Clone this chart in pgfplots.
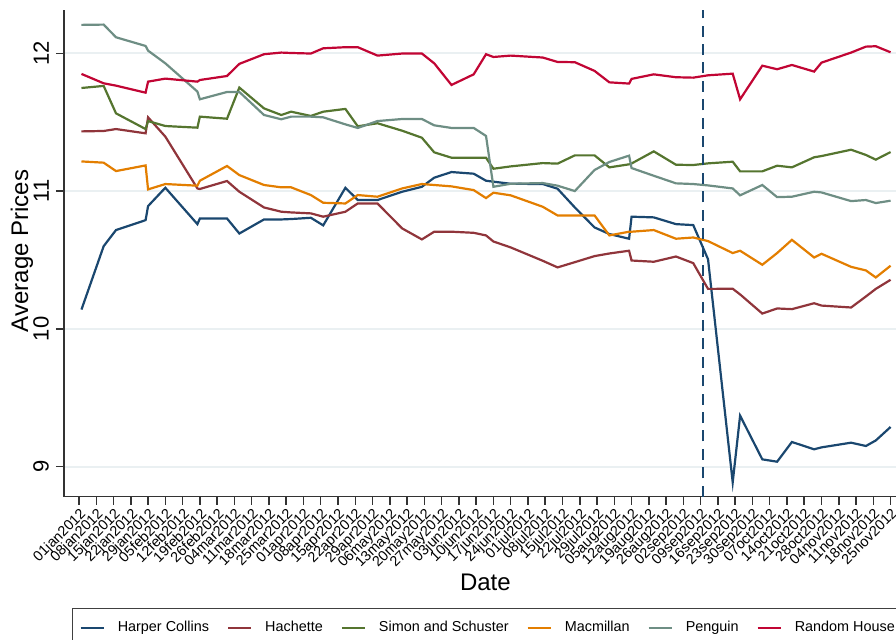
\documentclass[border=0pt]{standalone}
\usepackage{fontspec}
\setmainfont{Liberation Sans}
\usepackage{pgfplots}
\usepackage{pgfplotstable}
\pgfplotsset{compat=1.18}

\definecolor{hcnavy}{HTML}{1A476F}
\definecolor{hachmaroon}{HTML}{90353B}
\definecolor{ssgreen}{HTML}{55752F}
\definecolor{macorange}{HTML}{E37E00}
\definecolor{pengteal}{HTML}{6E8E84}
\definecolor{rhred}{HTML}{C10534}
\definecolor{gridc}{HTML}{EAF0F2}

% day = days since 01jan2012
\pgfplotstableread{
day hc hach ss mac peng rh
1 10.140 11.433 11.748 11.215 12.206 11.850
10 10.600 11.436 11.763 11.206 12.208 11.782
15 10.717 11.450 11.564 11.145 12.116 11.765
27 10.789 11.419 11.450 11.186 12.053 11.714
28 10.891 11.535 11.508 11.012 12.019 11.794
35 11.024 11.395 11.472 11.051 11.927 11.816
48 10.760 11.019 11.460 11.039 11.722 11.794
49 10.801 11.015 11.540 11.075 11.666 11.806
60 10.801 11.073 11.525 11.182 11.719 11.835
65 10.692 10.995 11.751 11.116 11.719 11.923
75 10.794 10.881 11.600 11.044 11.552 11.993
82 10.794 10.850 11.552 11.027 11.521 12.005
86 10.797 10.845 11.576 11.027 11.540 12.002
94 10.806 10.838 11.545 10.971 11.540 11.998
99 10.751 10.814 11.576 10.915 11.535 12.036
108 11.024 10.850 11.596 10.910 11.484 12.044
113 10.935 10.910 11.470 10.971 11.458 12.044
121 10.935 10.910 11.492 10.959 11.508 11.983
131 10.995 10.729 11.438 11.019 11.523 11.998
139 11.031 10.649 11.387 11.051 11.523 11.998
144 11.097 10.705 11.281 11.044 11.477 11.927
151 11.138 10.705 11.242 11.034 11.458 11.770
160 11.126 10.697 11.242 11.007 11.458 11.847
165 11.075 10.678 11.242 10.949 11.400 11.993
168 11.068 10.634 11.162 10.988 11.031 11.973
175 11.053 10.591 11.179 10.969 11.053 11.983
188 11.051 10.494 11.203 10.886 11.058 11.969
194 11.017 10.446 11.199 10.823 11.039 11.937
201 10.881 10.484 11.259 10.823 11.000 11.935
209 10.736 10.528 11.259 10.823 11.153 11.872
215 10.688 10.547 11.172 10.678 11.211 11.789
223 10.654 10.567 11.194 10.705 11.257 11.780
224 10.814 10.496 11.200 10.705 11.167 11.814
233 10.809 10.487 11.288 10.717 11.111 11.847
242 10.760 10.525 11.191 10.654 11.056 11.826
249 10.753 10.477 11.189 10.663 11.051 11.823
255 10.505 10.290 11.201 10.637 11.041 11.840
265 8.886 10.291 11.213 10.550 11.019 11.852
268 9.370 10.250 11.143 10.567 10.969 11.666
277 9.053 10.111 11.143 10.465 11.044 11.910
283 9.036 10.148 11.184 10.550 10.956 11.884
289 9.179 10.143 11.172 10.646 10.959 11.915
298 9.126 10.186 11.245 10.518 10.995 11.867
301 9.140 10.169 11.254 10.545 10.990 11.932
313 9.174 10.155 11.300 10.450 10.927 12.005
319 9.150 10.235 11.262 10.424 10.935 12.048
323 9.190 10.290 11.228 10.373 10.913 12.051
329 9.288 10.356 11.283 10.458 10.930 12.007
}\pubdata

\begin{document}
\begin{tikzpicture}
\useasboundingbox (0bp,0bp) rectangle (448bp,320bp);
\clip (0bp,0bp) rectangle (448bp,320bp);
\begin{axis}[
  at={(32bp,71.65bp)}, anchor=south west,
  scale only axis, width=416bp, height=243.35bp,
  xmin=-6.08, xmax=331.2, ymin=8.782, ymax=12.314,
  axis x line*=bottom, axis y line*=left,
  axis line style={black!80, line width=0.75bp, -},
  tick align=outside, major tick length=4bp,
  tick style={black!80, line width=0.75bp},
  xtick={0,7,...,329},
  xticklabels={01jan2012,08jan2012,15jan2012,22jan2012,29jan2012,05feb2012,12feb2012,19feb2012,26feb2012,04mar2012,11mar2012,18mar2012,25mar2012,01apr2012,08apr2012,15apr2012,22apr2012,29apr2012,06may2012,13may2012,20may2012,27may2012,03jun2012,10jun2012,17jun2012,24jun2012,01jul2012,08jul2012,15jul2012,22jul2012,29jul2012,05aug2012,12aug2012,19aug2012,26aug2012,02sep2012,09sep2012,16sep2012,23sep2012,30sep2012,07oct2012,14oct2012,21oct2012,28oct2012,04nov2012,11nov2012,18nov2012,25nov2012},
  ytick={9,10,11,12}, yticklabels={9,10,11,12},
  /pgf/number format/assume math mode=true,
  ymajorgrids, grid style={gridc, line width=1bp},
  xticklabel style={rotate=45, anchor=north east, inner sep=0.8bp,
    font=\fontsize{7.2bp}{8bp}\selectfont},
  yticklabel style={rotate=90, anchor=south,
    font=\fontsize{11bp}{12bp}\selectfont},
  legend columns=-1,
  legend image code/.code={\draw[#1] (0bp,0bp) -- (11.5bp,0bp);},
  legend style={at={(axis description cs:0.0096,-0.2293)}, anchor=north west,
    draw=black!75, line width=0.6bp, fill=white,
    font=\fontsize{7.2bp}{8.5bp}\selectfont,
    inner xsep=3.5bp, inner ysep=4.07bp,
    /tikz/every odd column/.append style={column sep=4.5bp},
    /tikz/every even column/.append style={column sep=7bp}},
  every axis plot/.append style={line width=1.1bp},
]
\addplot[hcnavy] table[x=day,y=hc] {\pubdata};
\addlegendentry{Harper Collins}
\addplot[hachmaroon] table[x=day,y=hach] {\pubdata};
\addlegendentry{Hachette}
\addplot[ssgreen] table[x=day,y=ss] {\pubdata};
\addlegendentry{Simon and Schuster}
\addplot[macorange] table[x=day,y=mac] {\pubdata};
\addlegendentry{Macmillan}
\addplot[pengteal] table[x=day,y=peng] {\pubdata};
\addlegendentry{Penguin}
\addplot[rhred] table[x=day,y=rh] {\pubdata};
\addlegendentry{Random House}
% event line
\addplot[hcnavy, line width=1.15bp, dash pattern=on 5.5bp off 3.7bp, forget plot]
  coordinates {(253,8.782) (253,12.314)};
\end{axis}
\node[rotate=90, font=\fontsize{12bp}{14bp}\selectfont] at (11bp,194.5bp) {Average Prices};
\node[anchor=base, font=\fontsize{12bp}{14bp}\selectfont] at (242.7bp,25bp) {Date};
\end{tikzpicture}
\end{document}
